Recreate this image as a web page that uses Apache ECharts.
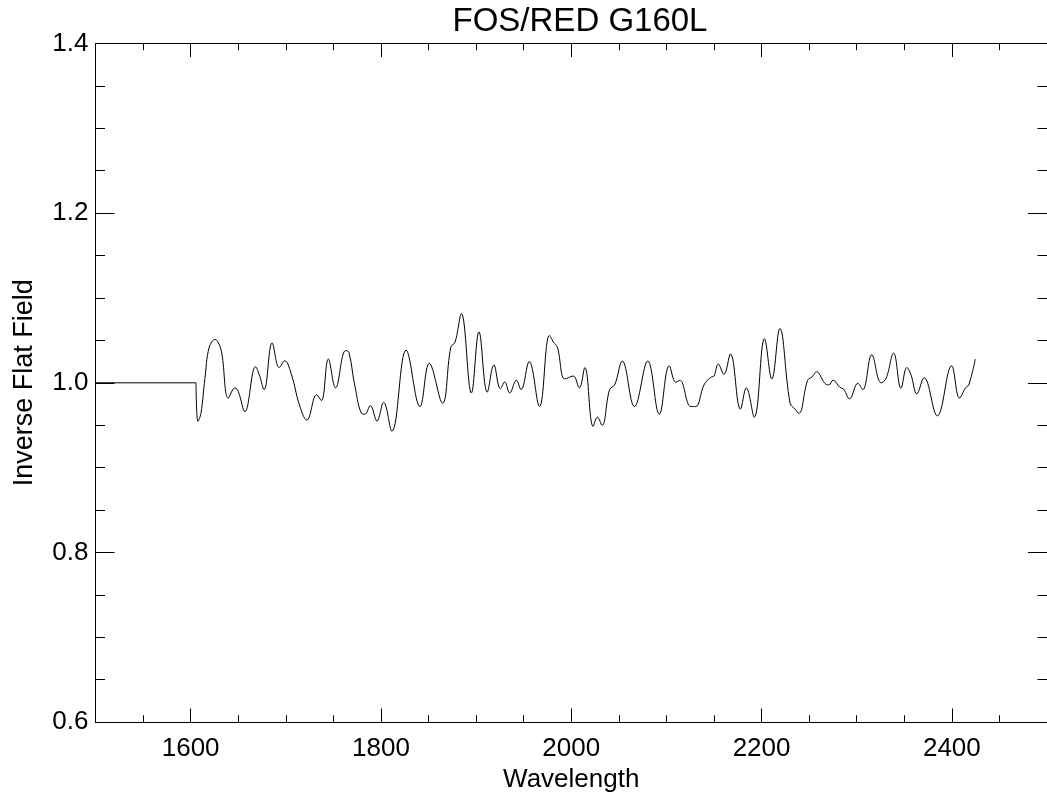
<!DOCTYPE html>
<html>
<head>
<meta charset="utf-8">
<script src="https://cdn.jsdelivr.net/npm/echarts@6/dist/echarts.min.js"></script>
<style>
html,body{margin:0;padding:0;background:#fff;}
#chart{width:1047px;height:798px;}
</style>
</head>
<body>
<div id="chart"></div>
<script>
// ---- data ----
const titleText = 'FOS/RED G160L';
const xName = 'Wavelength';
const yName = 'Inverse Flat Field';
const xMajorTicks = [1600, 1800, 2000, 2200, 2400];
const flatWave = [1500, 1605.6];
const flatVals = [1.0, 1.0];
const waves = [
  1605.6, 1607.7, 1610.8, 1615, 1619.5, 1625.7, 1629.2, 1632.7, 1639.6, 1646.6,
  1650, 1657, 1668.2, 1672, 1677.2, 1685.6, 1693.2, 1698.8, 1706.4, 1714,
  1722.1, 1732.5, 1737.4, 1744.7, 1752.3, 1762.8, 1766.3, 1772, 1779.5, 1783,
  1788.9, 1795.8, 1802.8, 1811.5, 1826.4, 1841.0, 1850.8, 1864.7, 1873.4, 1877.9,
  1884.5, 1895, 1903, 1911.7, 1918.7, 1925.5, 1930.1, 1935.3, 1942.3, 1947.2,
  1955.8, 1966.6, 1977.1, 1981.3, 1985.4, 1993.4, 2002.1, 2008.4, 2014.3, 2023,
  2027.5, 2032.4, 2040.3, 2045.6, 2053.6, 2066.4, 2080.4, 2092.5, 2103, 2110,
  2114.1, 2125.6, 2130.8, 2139.5, 2146.5, 2150, 2154.5, 2160.4, 2167.3, 2177.8,
  2184, 2192.4, 2203.1, 2210.8, 2219.2, 2230, 2235.2, 2239.3, 2248.4, 2253.2,
  2257.8, 2266.5, 2270.6, 2275.1, 2282.1, 2286.6, 2292.5, 2301.2, 2306.4, 2315.8,
  2325.6, 2330.8, 2338.8, 2346.5, 2352.7, 2356.9, 2363.2, 2370.8, 2384.7, 2399.7,
  2408.1, 2414.3, 2417.8, 2424.7
];
const values = [
  1.000, 0.9545, 0.964, 1.005, 1.042, 1.051, 1.047, 1.035, 0.982, 0.994,
  0.990, 0.966, 1.019, 1.010, 0.992, 1.047, 1.018, 1.026, 1.008, 0.975,
  0.956, 0.986, 0.979, 1.028, 0.994, 1.038, 1.036, 1.000, 0.964, 0.963,
  0.973, 0.955, 0.977, 0.943, 1.0385, 0.972, 1.023, 0.976, 1.042, 1.048,
  1.0815, 0.988, 1.060, 0.989, 1.021, 0.993, 1.001, 0.988, 1.003, 0.992,
  1.025, 0.972, 1.056, 1.048, 1.042, 1.0045, 1.008, 0.994, 1.018, 0.9486,
  0.9595, 0.9498, 0.992, 0.9975, 1.0256, 0.972, 1.0256, 0.963, 1.020, 1.0006,
  1.003, 0.972, 0.972, 0.9975, 1.0064, 1.008, 1.022, 1.010, 1.034, 0.969,
  0.994, 0.9595, 1.052, 1.0045, 1.064, 0.976, 0.969, 0.964, 1.003, 1.007,
  1.013, 0.9994, 0.9975, 1.003, 0.995, 0.992, 0.981, 0.9994, 0.992, 1.033,
  1.000, 1.005, 1.035, 0.9936, 1.018, 1.010, 0.987, 1.006, 0.961, 1.020,
  0.982, 0.994, 0.9975, 1.028
];

const FONT = "'Liberation Sans', Arial, Helvetica, sans-serif";
const chart = echarts.init(document.getElementById('chart'), null, {renderer: 'canvas'});

const flatData = flatWave.map((w, i) => [w, flatVals[i]]);
const mainData = waves.map((w, i) => [w, values[i]]);

const xMajorLen = 13.6, xMinorLen = 6.8, yMajorLen = 19, yMinorLen = 9.5;
const black = '#000';

function xMajor(pos, showLabel) {
  return {
    type: 'value', position: pos, min: 1500, max: 2500,
    axisLine: {show: true, onZero: false, lineStyle: {color: black, width: 1}},
    axisTick: {show: true, inside: true, length: xMajorLen, customValues: xMajorTicks, lineStyle: {color: black, width: 1}},
    axisLabel: {show: showLabel, customValues: xMajorTicks, margin: 14, color: black, fontSize: 26, fontFamily: FONT,
      formatter: v => String(Math.round(v))},
    splitLine: {show: false},
    name: showLabel ? xName : '', nameLocation: 'middle', nameGap: 43,
    nameTextStyle: {color: black, fontSize: 26, fontFamily: FONT}
  };
}
function xMinor(pos) {
  return {
    type: 'value', position: pos, min: 1500, max: 2500, interval: 50,
    axisLine: {show: false, onZero: false},
    axisTick: {show: true, inside: true, length: xMinorLen, lineStyle: {color: black, width: 1}},
    axisLabel: {show: false},
    splitLine: {show: false}
  };
}
function yAxisDef(pos, showLabel) {
  return {
    type: 'value', position: pos, min: 0.6, max: 1.4, interval: 0.2,
    axisLine: {show: true, onZero: false, lineStyle: {color: black, width: 1}},
    axisTick: {show: true, inside: true, length: yMajorLen, lineStyle: {color: black, width: 1}},
    minorTick: {show: true, splitNumber: 4, length: yMinorLen, lineStyle: {color: black, width: 1}},
    axisLabel: {show: showLabel, margin: 7, color: black, fontSize: 26, fontFamily: FONT,
      formatter: v => v.toFixed(1)},
    splitLine: {show: false}, minorSplitLine: {show: false},
    name: showLabel ? yName : '', nameLocation: 'middle', nameGap: 57,
    nameTextStyle: {color: black, fontSize: 27, fontFamily: FONT}
  };
}

chart.setOption({
  animation: false,
  backgroundColor: '#fff',
  title: {
    text: titleText, left: 575, top: 0, textAlign: 'center',
    textStyle: {color: black, fontSize: 33, fontWeight: 'normal', fontFamily: FONT}
  },
  grid: {left: 95.5, top: 43.5, width: 958.5, height: 682, containLabel: false},
  xAxis: [xMajor('bottom', true), xMinor('bottom'), xMajor('top', false), xMinor('top')],
  yAxis: [yAxisDef('left', true), yAxisDef('right', false)],
  series: [
    {type: 'line', xAxisIndex: 0, yAxisIndex: 0, data: flatData, showSymbol: false,
     lineStyle: {color: black, width: 1}, silent: true},
    {type: 'line', xAxisIndex: 0, yAxisIndex: 0, data: mainData, showSymbol: false,
     smooth: 0.4, lineStyle: {color: black, width: 1}, silent: true}
  ]
});
</script>
</body>
</html>
